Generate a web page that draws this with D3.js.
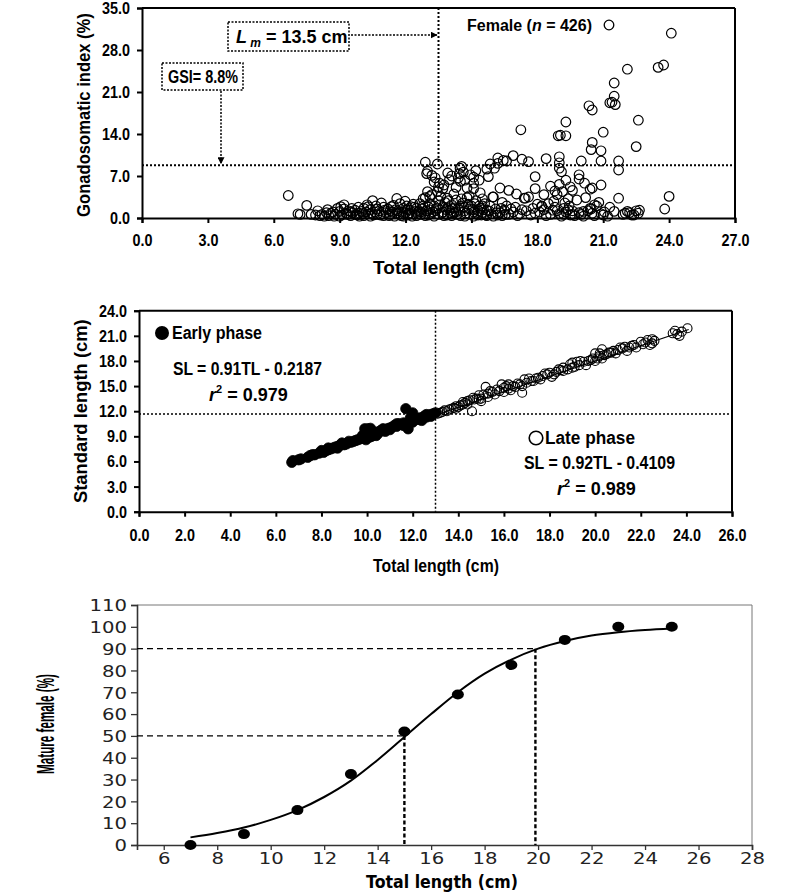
<!DOCTYPE html>
<html><head><meta charset="utf-8">
<script src="https://cdn.jsdelivr.net/npm/d3@7"></script>
<style>
html,body{margin:0;padding:0;background:#fff;}
svg{display:block;}
.b text{font-family:"Liberation Sans",Arial,sans-serif;font-weight:bold;}
</style></head><body>
<svg id="chart" width="787" height="895"></svg>
<script>
// ---------- Panel 1: GSI vs total length (female, n = 426) ----------
const gsiTicksX = [0,3,6,9,12,15,18,21,24,27];
const gsiTicksY = [0,7,14,21,28,35];
const gsiLm = 13.5, gsiThreshold = 8.8;
const gsiBand = [
 [7.2,0.6],[7.5,2.1],[7.7,0.6],[7.9,0.5],[8.2,0.6],[8.4,0.9],[8.5,0.4],[8.7,1.0],[8.8,0.6],[8.9,1.6],[9.0,1.1],[9.1,0.5],[9.2,2.2],[9.3,0.8],[9.4,1.2],[9.5,0.4],[9.6,0.9],[9.7,1.3],[9.8,0.5],[9.9,0.8],
 [10.0,1.1],[10.1,0.4],[10.2,1.0],[10.3,0.7],[10.4,1.4],[10.5,2.9],[10.55,0.5],[10.6,1.0],[10.7,0.6],[10.8,1.2],[10.9,2.5],[11.0,0.4],[11.1,0.9],[11.2,1.5],[11.3,0.6],[11.4,1.0],[11.5,0.3],[11.6,3.25],[11.65,1.2],[11.7,0.7],
 [11.8,0.4],[11.9,1.6],[11.98,2.8],[12.0,0.9],[12.1,0.5],[12.2,1.3],[12.3,0.7],[12.4,1.8],[12.5,0.4],[12.6,1.1],[12.7,0.6],[12.8,2.0],[12.9,3.4],[12.95,1.2],[13.0,4.4],[13.05,0.5],[13.1,2.4],[13.2,3.9],[13.25,1.0],[13.3,0.3],
 [13.4,1.6],[13.45,4.4],[13.5,2.9],[13.6,3.6],[13.65,0.8],[13.7,1.9],[13.8,2.6],[13.9,0.5],[14.0,1.3],[14.1,2.2],[14.2,0.9],[14.3,3.0],[14.4,1.6],[14.5,0.4],[14.6,2.5],[14.7,1.2],[14.8,3.4],[14.9,0.7],[15.0,2.0],[15.1,1.0],
 [15.2,2.9],[15.3,0.5],[15.4,1.6],[15.5,0.9],[15.6,2.4],[15.7,0.4],[15.8,1.2],[15.9,0.7],[16.0,3.5],[16.1,1.5],[16.2,0.5],[16.3,0.9],[16.5,1.3],[16.7,0.6],[16.9,1.0],[17.0,1.8],[17.2,0.7],[17.4,3.3],[17.5,1.2],[17.6,3.5],
 [17.7,0.5],[17.8,1.6],[18.0,2.3],[18.1,1.0],[18.2,1.9],[18.3,1.4],[18.5,2.4],[18.6,0.6],[18.7,1.3],[18.8,1.8],[19.0,0.7],[19.2,1.6],[19.3,1.0],[19.4,1.4],[19.5,0.5],[19.6,1.2],[19.8,3.0],[19.9,0.9],[20.0,0.6],[20.2,3.4],
 [20.3,1.2],[20.5,0.8],[20.7,2.0],[20.9,0.7],[21.0,0.5],[21.5,1.1],[21.9,0.6],[22.0,0.8],[22.1,1.1],[22.2,0.9],[22.5,1.2],[22.6,0.8],[23.8,1.5],[24.0,3.6],[6.66,3.75],[7.1,0.7],
 [8.3,0.3],[8.6,0.8],[9.0,0.3],[9.2,1.5],[9.5,1.0],[9.9,0.3],[10.1,1.6],[10.4,0.3],[10.7,1.5],[11.0,1.8],[11.3,1.2],[11.6,0.8],[11.9,0.3],[12.1,1.4],[12.3,0.3],[12.5,1.6],[12.7,1.0],[12.9,0.4],[13.1,1.4],[13.3,2.0],
 [13.5,0.6],[13.7,1.0],[13.9,1.7],[14.1,0.4],[14.3,1.0],[14.5,2.0],[14.7,0.3],[14.9,1.5],[15.1,0.3],[15.3,1.2],[15.5,2.0],[15.7,1.3],[16.0,0.3],[16.4,0.4],[17.1,0.4],[18.4,0.4],[19.1,0.3],[19.7,0.4],[20.1,0.3],[20.6,0.4],[21.2,0.3],
 [10.3,1.9],[11.45,2.1],[12.35,2.3],[13.15,0.8],[14.25,1.7],[15.45,0.5],[16.6,2.0],[19.45,2.0],[20.4,1.6],[22.4,0.5],
 [8.0,1.2],[8.1,0.4],[8.45,1.4],[8.75,0.3],[9.05,1.9],[9.35,0.6],[9.55,1.6],[9.75,0.6],[9.85,1.8],[10.05,0.7],[10.25,2.2],[10.45,0.8],[10.65,2.0],[10.85,0.5],[11.05,1.3],[11.25,0.4],[11.35,1.9],[11.55,1.4],[11.75,2.4],[11.85,1.0],
 [12.05,2.0],[12.15,0.8],[12.25,1.9],[12.45,1.1],[12.55,0.7],[12.65,2.4],[12.75,1.5],[12.85,0.7],[13.05,1.8],[13.35,1.2],[13.55,2.2],[13.75,0.4],[13.85,1.4],[13.95,2.9],[14.05,0.9],[14.15,1.6],[14.35,0.6],[14.45,1.3],[14.55,3.2],[14.65,1.8],
 [14.75,0.8],[14.85,2.3],[15.05,1.4],[15.15,2.4],[15.25,0.8],[15.35,2.0],[15.55,1.4],[15.65,0.5],[15.85,2.0],[16.15,0.9],[16.35,1.6],[16.55,0.6],[16.8,1.5],[17.3,1.4],[17.9,0.8],[18.9,1.2],[19.2,0.6],[19.6,0.6],[20.1,1.1],[20.45,1.5],
 [21.05,1.0],[22.3,0.5],[22.65,1.3]
];
const gsiMid = [
 [12.9,9.3],[13.45,9.0],[12.96,7.4],[13.2,7.1],[13.92,7.5],[14.48,8.3],[14.45,7.4],[14.63,7.65],[14.0,6.4],[14.4,6.66],[14.5,6.1],[15.1,6.8],[15.1,5.8],[15.1,4.9],[15.7,8.15],[15.77,6.9],[16.2,10.0],[16.2,9.1],[16.6,9.5],[16.9,10.4],
 [17.6,9.4],[17.9,6.9],[17.9,4.9],[18.4,9.9],[16.7,4.6],[15.97,3.5],[13.5,5.2],[13.3,6.0],[14.2,4.0],[14.8,5.0],[15.4,4.2],[16.4,2.6],[13.7,4.9],[12.8,3.2],[13.1,3.6],[14.9,3.7],[13.9,3.3],
 [18.6,5.3],[18.8,4.5],[18.9,3.9],[19.0,5.6],[19.0,9.2],[19.0,8.3],[19.1,7.7],[19.0,10.2],[19.3,6.3],[19.5,5.2],[19.9,7.2],[19.9,6.5],[20.0,9.5],[20.4,4.8],[20.5,5.0],[20.9,5.5],[20.9,9.5],[21.7,9.5],[21.7,8.0],[21.7,3.3],
 [18.2,2.0],[19.4,3.2],[20.6,2.2],
 [13.0,7.8],[13.35,6.7],[13.55,5.8],[13.75,5.5],[14.1,7.0],[14.3,5.1],[14.55,8.6],[14.7,6.3],[14.95,7.2],[15.2,7.9],[15.35,6.3],[15.5,3.2],[15.85,9.0],[16.05,8.3],[16.3,5.0],[16.45,9.6],[17.05,4.0],[17.3,9.8],[17.45,3.3],[18.3,3.9],
 [18.75,2.8],[19.15,4.4],[19.6,4.6],[20.15,5.8],[19.25,2.5],[20.8,2.6],[21.3,1.8]
];
const gsiUpper = [
 [24.1,30.8],[23.5,25.1],[23.75,25.5],[22.1,24.8],[21.5,22.5],[21.5,20.3],[21.3,19.2],[21.4,19.3],[21.55,18.9],[20.35,18.7],[20.5,18.0],[22.6,16.3],[19.3,16.0],[17.25,14.7],[18.95,13.7],[19.05,13.8],[19.3,13.7],[21.0,14.3],
 [20.5,12.6],[20.45,11.4],[20.9,11.2],[22.5,11.9]
];

// ---------- Panel 2: SL vs TL ----------
const slTicksX = [0,2,4,6,8,10,12,14,16,18,20,22,24,26];
const slTicksY = [0,3,6,9,12,15,18,21,24];
const slSplitTL = 13.0, slSplitSL = 11.67;
const earlyFit = {a:0.91, b:-0.2187, from:6.7, to:13.0};
const lateFit = {a:0.92, b:-0.4109, from:13.0, to:24.1};
const earlyPhase = [
 [6.7,5.9],[6.75,6.1],[7.1,6.3],[7.5,6.7],[7.6,6.8],[7.7,6.8],[7.9,7.0],[8.1,7.1],[8.2,7.3],[8.3,7.4],[8.4,7.5],[8.5,7.6],[8.6,7.7],[8.7,7.8],[8.8,7.9],[8.9,8.2],[9.0,8.0],[9.1,8.1],[9.3,8.3],[9.4,8.4],
 [9.6,8.6],[9.7,8.7],[9.8,8.8],[9.9,9.0],[9.95,8.6],[9.9,9.9],[10.0,9.7],[10.05,9.9],[10.1,8.9],[10.15,9.95],[10.2,9.3],[10.2,9.0],[10.3,9.2],[10.4,9.5],[10.5,9.4],[10.6,9.7],[10.8,9.6],[10.9,9.9],[11.0,10.0],[11.1,10.1],
 [11.2,10.3],[11.3,10.2],[11.4,10.5],[11.5,10.4],[11.6,10.6],[11.7,12.3],[11.75,10.5],[11.8,9.9],[11.9,10.8],[12.0,11.8],[12.1,11.0],[12.2,11.1],[12.3,11.2],[12.4,10.9],[12.5,11.4],[12.6,11.3],[12.7,11.5],[12.8,11.6],[12.9,11.7],[13.0,11.8],
 [7.0,6.2],[7.4,6.5],[8.0,7.3],[8.3,7.6],[8.7,7.6],[9.2,8.4],[9.5,8.5],[9.8,9.1],[10.0,9.2],[10.4,9.1],[10.7,9.9],[11.0,9.8],[11.3,10.5],[11.6,10.3],[11.9,11.2],[12.0,10.7],[12.3,11.0],[12.6,11.6],[12.8,11.4]
];
const latePhase = [
 [13.1,11.7],[13.2,11.8],[13.3,11.9],[13.5,12.0],[13.6,12.2],[13.7,12.3],[13.8,12.4],[13.9,12.6],[14.0,12.5],[14.1,12.7],[14.2,12.8],[14.3,13.0],[14.4,13.2],[14.5,13.3],[14.6,12.0],[14.65,13.6],[14.7,13.4],[14.8,13.5],[14.9,13.4],[15.0,13.5],
 [15.1,14.0],[15.2,14.9],[15.3,14.1],[15.5,14.3],[15.6,14.0],[15.8,14.4],[15.9,15.2],[16.0,14.8],[16.1,15.0],[16.2,15.2],[16.3,14.5],[16.4,15.0],[16.5,14.9],[16.7,15.2],[16.8,14.2],[16.9,15.8],[17.0,15.4],[17.1,15.9],[17.2,15.6],[17.4,15.9],
 [17.5,16.0],[17.7,16.2],[17.9,16.4],[18.0,16.6],[18.1,16.1],[18.3,16.7],[18.4,17.0],[18.5,16.9],[18.6,17.2],[18.8,17.0],[18.9,17.6],[19.0,17.8],[19.1,17.3],[19.3,17.5],[19.35,18.0],[19.5,17.9],[19.7,18.0],[19.8,18.1],[20.0,18.9],[20.1,18.3],
 [20.2,18.6],[20.3,19.4],[20.4,18.7],[20.5,18.8],[20.7,19.0],[20.8,19.2],[21.0,19.3],[21.2,19.5],[21.3,19.7],[21.5,19.6],[21.7,19.9],[22.0,20.3],[22.2,20.2],[22.4,19.9],[22.5,20.6],[22.6,20.4],[23.5,21.6],[23.6,21.2],[23.7,21.0],[24.05,21.9],
 [13.4,12.1],[13.9,12.3],[14.2,13.1],[14.4,12.8],[14.9,13.9],[15.0,13.2],[15.3,13.7],[15.4,14.4],[15.7,14.6],[16.0,14.3],[16.2,14.7],[16.6,15.3],[16.8,15.0],[17.3,15.6],[17.6,15.8],[17.8,16.5],[18.2,16.4],[18.6,16.8],[19.0,17.2],[19.2,17.9],
 [19.6,17.5],[19.9,18.3],[20.0,18.0],[20.2,18.9],[20.3,18.3],[20.6,19.0],[20.9,18.9],[21.1,19.6],[21.4,19.2],[21.6,19.8],[21.8,19.6],[22.1,20.0],[22.3,20.5],[22.5,20.1],[23.4,21.3],[23.8,21.5]
];

// ---------- Panel 3: maturity ogive ----------
const matTicksX = [6,8,10,12,14,16,18,20,22,24,26,28];
const matTicksY = [0,10,20,30,40,50,60,70,80,90,100,110];
const matTL = [7,9,11,13,15,17,19,21,23,25];
const matPct = [0,5,16,32.5,52,69,82.5,94,100,100];
const ogiveTL = [7,8,9,10,11,12,13,14,15,16,17,18,19,20,21,22,23,24,25];
const ogivePct = [3.5,5.5,8,11.5,16,22,29.5,39,49.5,60,70,78.5,85,90,93.5,96,97.5,98.5,99.2];
const L50 = 15.0, L90 = 19.9;

const svg = d3.select("#chart");
const defs = svg.append("defs");
defs.append("marker").attr("id","arr").attr("viewBox","0 0 10 10").attr("refX",10).attr("refY",5)
  .attr("markerWidth",7).attr("markerHeight",7).attr("markerUnits","userSpaceOnUse").attr("orient","auto")
  .append("path").attr("d","M0,0L10,5L0,10z").attr("fill","#000");

function fmt1(d){return d.toFixed(1);}
function numLen(s){ let w=0; for(const c of s){ w += (c===".")?4:8; } return w; }
function styleBoldAxis(a){
  a.select(".domain").attr("stroke-width",2);
  a.selectAll(".tick line").attr("stroke-width",2);
  a.selectAll("text").attr("font-size",17).attr("fill","#000")
    .attr("font-family","Liberation Sans, Arial").attr("font-weight","bold")
    .attr("textLength",function(){return numLen(this.textContent);}).attr("lengthAdjust","spacingAndGlyphs");
}
function fitText(sel,len){ return sel.attr("textLength",len).attr("lengthAdjust","spacingAndGlyphs"); }
function condensed(g, cx, cy, rot, size, len, family, str){
  const outer = g.append("g").attr("transform",`translate(${cx},${cy}) rotate(${rot})`);
  const t = outer.append("text").attr("text-anchor","middle").attr("font-family",family)
    .attr("font-weight","bold").attr("font-size",size).text(str);
  const w = t.node().getComputedTextLength();
  t.attr("transform",`scale(${len/w},1)`);
  return t;
}

// ===== Panel 1 =====
(function(){
  const g = svg.append("g").attr("class","b");
  const x = d3.scaleLinear().domain([0,27]).range([142,735]);
  const y = d3.scaleLinear().domain([0,35]).range([218,8]);
  g.append("line").attr("x1",x(0)).attr("x2",x(27)).attr("y1",y(35)).attr("y2",y(35)).attr("stroke","#000").attr("stroke-width",2);
  g.append("line").attr("x1",x(27)).attr("x2",x(27)).attr("y1",y(35)).attr("y2",y(0)).attr("stroke","#000").attr("stroke-width",2);
  const ax = g.append("g").attr("transform",`translate(0,${y(0)})`)
    .call(d3.axisBottom(x).tickValues(gsiTicksX).tickFormat(fmt1).tickSize(5).tickPadding(11));
  const ay = g.append("g").attr("transform",`translate(${x(0)},0)`)
    .call(d3.axisLeft(y).tickValues(gsiTicksY).tickFormat(fmt1).tickSize(5).tickPadding(7));
  styleBoldAxis(ax); styleBoldAxis(ay);
  condensed(g, 449, 274, 0, 18, 152, "Liberation Sans, Arial", "Total length (cm)");
  condensed(g, 90, (y(0)+y(35))/2+2, -90, 19, 204, "Liberation Sans, Arial", "Gonadosomatic index (%)");
  const all = gsiBand.concat(gsiMid, gsiUpper);
  g.append("g").selectAll("circle").data(all).join("circle")
    .attr("cx",d=>x(d[0])).attr("cy",d=>y(d[1])).attr("r",4.8)
    .attr("fill","none").attr("stroke","#000").attr("stroke-width",1.2);
  g.append("line").attr("x1",x(0)).attr("x2",x(27)).attr("y1",y(gsiThreshold)).attr("y2",y(gsiThreshold))
    .attr("stroke","#000").attr("stroke-width",2).attr("stroke-dasharray","2,2");
  g.append("line").attr("x1",x(gsiLm)).attr("x2",x(gsiLm)).attr("y1",y(35)).attr("y2",y(gsiThreshold))
    .attr("stroke","#000").attr("stroke-width",2).attr("stroke-dasharray","2,2");
  g.append("rect").attr("x",228).attr("y",22).attr("width",121).attr("height",29).attr("fill","#fff")
    .attr("stroke","#000").attr("stroke-width",1.5).attr("stroke-dasharray","2,1.5");
  const t1 = g.append("text").attr("x",236).attr("y",43).attr("font-size",18);
  t1.append("tspan").attr("font-style","italic").text("L");
  t1.append("tspan").attr("font-style","italic").attr("font-size",12).attr("dy",4).text(" m");
  t1.append("tspan").attr("dy",-4).text(" = 13.5 cm");
  g.append("line").attr("x1",351).attr("x2",x(gsiLm)-1).attr("y1",35).attr("y2",35)
    .attr("stroke","#000").attr("stroke-width",1.5).attr("stroke-dasharray","2,1.5").attr("marker-end","url(#arr)");
  g.append("rect").attr("x",162).attr("y",63).attr("width",81).attr("height",27).attr("fill","#fff")
    .attr("stroke","#000").attr("stroke-width",1.5).attr("stroke-dasharray","2,1.5");
  condensed(g, 203, 83, 0, 19, 70, "Liberation Sans, Arial", "GSI= 8.8%");
  g.append("line").attr("x1",221).attr("x2",221).attr("y1",91).attr("y2",y(gsiThreshold)-1)
    .attr("stroke","#000").attr("stroke-width",1.5).attr("stroke-dasharray","2,1.5").attr("marker-end","url(#arr)");
  const t2 = g.append("text").attr("x",467).attr("y",31).attr("font-size",16);
  t2.append("tspan").text("Female (");
  t2.append("tspan").attr("font-style","italic").text("n");
  t2.append("tspan").text(" = 426)");
  g.append("circle").attr("cx",609).attr("cy",25).attr("r",4.8).attr("fill","none").attr("stroke","#000").attr("stroke-width",1.3);
})();

// ===== Panel 2 =====
(function(){
  const g = svg.append("g").attr("class","b");
  const x = d3.scaleLinear().domain([0,26]).range([139,732]);
  const y = d3.scaleLinear().domain([0,24]).range([511.7,310.7]);
  g.append("line").attr("x1",x(0)).attr("x2",x(26)).attr("y1",y(24)).attr("y2",y(24)).attr("stroke","#000").attr("stroke-width",2);
  g.append("line").attr("x1",x(26)).attr("x2",x(26)).attr("y1",y(24)).attr("y2",y(0)).attr("stroke","#000").attr("stroke-width",2);
  const ax = g.append("g").attr("transform",`translate(0,${y(0)})`)
    .call(d3.axisBottom(x).tickValues(slTicksX).tickFormat(fmt1).tickSize(5).tickPadding(12));
  const ay = g.append("g").attr("transform",`translate(${x(0)},0)`)
    .call(d3.axisLeft(y).tickValues(slTicksY).tickFormat(fmt1).tickSize(5).tickPadding(7));
  styleBoldAxis(ax); styleBoldAxis(ay);
  condensed(g, 436, 572, 0, 18, 126, "Liberation Sans, Arial", "Total length (cm)");
  condensed(g, 87, (y(0)+y(24))/2, -90, 19, 184, "Liberation Sans, Arial", "Standard length (cm)");
  g.append("line").attr("x1",x(0)).attr("x2",x(26)).attr("y1",y(slSplitSL)).attr("y2",y(slSplitSL))
    .attr("stroke","#000").attr("stroke-width",1.5).attr("stroke-dasharray","2,2");
  g.append("line").attr("x1",x(slSplitTL)).attr("x2",x(slSplitTL)).attr("y1",y(24)).attr("y2",y(0))
    .attr("stroke","#000").attr("stroke-width",1.5).attr("stroke-dasharray","2,2");
  [earlyFit,lateFit].forEach(f=>{
    g.append("line").attr("x1",x(f.from)).attr("y1",y(f.a*f.from+f.b)).attr("x2",x(f.to)).attr("y2",y(f.a*f.to+f.b))
      .attr("stroke","#000").attr("stroke-width",1.2);
  });
  g.append("g").selectAll("circle").data(latePhase).join("circle")
    .attr("cx",d=>x(d[0])).attr("cy",d=>y(d[1])).attr("r",4.5)
    .attr("fill","none").attr("stroke","#000").attr("stroke-width",1.1);
  g.append("g").selectAll("circle").data(earlyPhase).join("circle")
    .attr("cx",d=>x(d[0])).attr("cy",d=>y(d[1])).attr("r",5.2)
    .attr("fill","#000").attr("stroke","#000").attr("stroke-width",0.8);
  g.append("circle").attr("cx",162).attr("cy",333).attr("r",7).attr("fill","#000");
  fitText(g.append("text").attr("x",172).attr("y",339).attr("font-size",18),90).text("Early phase");
  fitText(g.append("text").attr("x",173).attr("y",375).attr("font-size",18),149).text("SL = 0.91TL - 0.2187");
  const r1 = g.append("text").attr("x",209).attr("y",401).attr("font-size",18);
  r1.append("tspan").attr("font-style","italic").text("r");
  r1.append("tspan").attr("font-size",11).attr("dy",-8).text("2");
  r1.append("tspan").attr("dy",8).text(" = 0.979");
  g.append("circle").attr("cx",536).attr("cy",438).attr("r",6.8).attr("fill","#fff").attr("stroke","#000").attr("stroke-width",1.6);
  fitText(g.append("text").attr("x",545).attr("y",444).attr("font-size",18),90).text("Late phase");
  fitText(g.append("text").attr("x",524).attr("y",469).attr("font-size",18),151).text("SL = 0.92TL - 0.4109");
  const r2 = g.append("text").attr("x",557).attr("y",495).attr("font-size",18);
  r2.append("tspan").attr("font-style","italic").text("r");
  r2.append("tspan").attr("font-size",11).attr("dy",-8).text("2");
  r2.append("tspan").attr("dy",8).text(" = 0.989");
})();

// ===== Panel 3 =====
(function(){
  const g = svg.append("g");
  const x = d3.scaleLinear().domain([5,28]).range([137,752]);
  const y = d3.scaleLinear().domain([0,110]).range([845,605]);
  g.append("line").attr("x1",x(5)).attr("x2",x(28)).attr("y1",y(110)).attr("y2",y(110)).attr("stroke","#777").attr("stroke-width",1);
  g.append("line").attr("x1",x(28)).attr("x2",x(28)).attr("y1",y(110)).attr("y2",y(0)).attr("stroke","#777").attr("stroke-width",1);
  const ax = g.append("g").attr("transform",`translate(0,${y(0)})`)
    .call(d3.axisBottom(x).tickValues(matTicksX).tickSize(5).tickPadding(3));
  const ay = g.append("g").attr("transform",`translate(${x(5)},0)`)
    .call(d3.axisLeft(y).tickValues(matTicksY).tickSize(6).tickPadding(4));
  [ax,ay].forEach(a=>{a.select(".domain").attr("stroke","#333").attr("stroke-width",1.6);a.selectAll(".tick line").attr("stroke","#333").attr("stroke-width",1.3);
    a.selectAll("text").attr("font-size",16).attr("fill","#222").attr("font-family","DejaVu Sans, Verdana")
      .attr("textLength",d=>String(d).length*12.5).attr("lengthAdjust","spacingAndGlyphs");});
  ay.selectAll("text").attr("dy","0.36em");
  g.append("text").attr("x",442).attr("y",888).attr("text-anchor","middle").attr("font-family","DejaVu Sans, Verdana").attr("font-weight","bold")
    .attr("font-size",17).attr("textLength",152).attr("lengthAdjust","spacingAndGlyphs").text("Total length (cm)");
  condensed(g, 54, 724, -90, 24, 100, "Liberation Sans, Arial", "Mature female (%)");
  [[L50,50],[L90,90]].forEach(([lx,ly])=>{
    g.append("line").attr("x1",x(5)).attr("x2",x(lx)).attr("y1",y(ly)).attr("y2",y(ly))
      .attr("stroke","#000").attr("stroke-width",1.4).attr("stroke-dasharray","6,4");
    g.append("line").attr("x1",x(lx)).attr("x2",x(lx)).attr("y1",y(ly)).attr("y2",y(0))
      .attr("stroke","#000").attr("stroke-width",2.4).attr("stroke-dasharray","4,2.5");
  });
  const curve = ogiveTL.map((t,i)=>[t,ogivePct[i]]);
  g.append("path").datum(curve).attr("d",d3.line().x(d=>x(d[0])).y(d=>y(d[1])).curve(d3.curveMonotoneX))
    .attr("fill","none").attr("stroke","#000").attr("stroke-width",2);
  g.append("g").selectAll("ellipse").data(matTL.map((t,i)=>[t,matPct[i]])).join("ellipse")
    .attr("cx",d=>x(d[0])).attr("cy",d=>y(d[1])).attr("rx",6).attr("ry",5).attr("fill","#000");
})();
</script>
</body></html>
